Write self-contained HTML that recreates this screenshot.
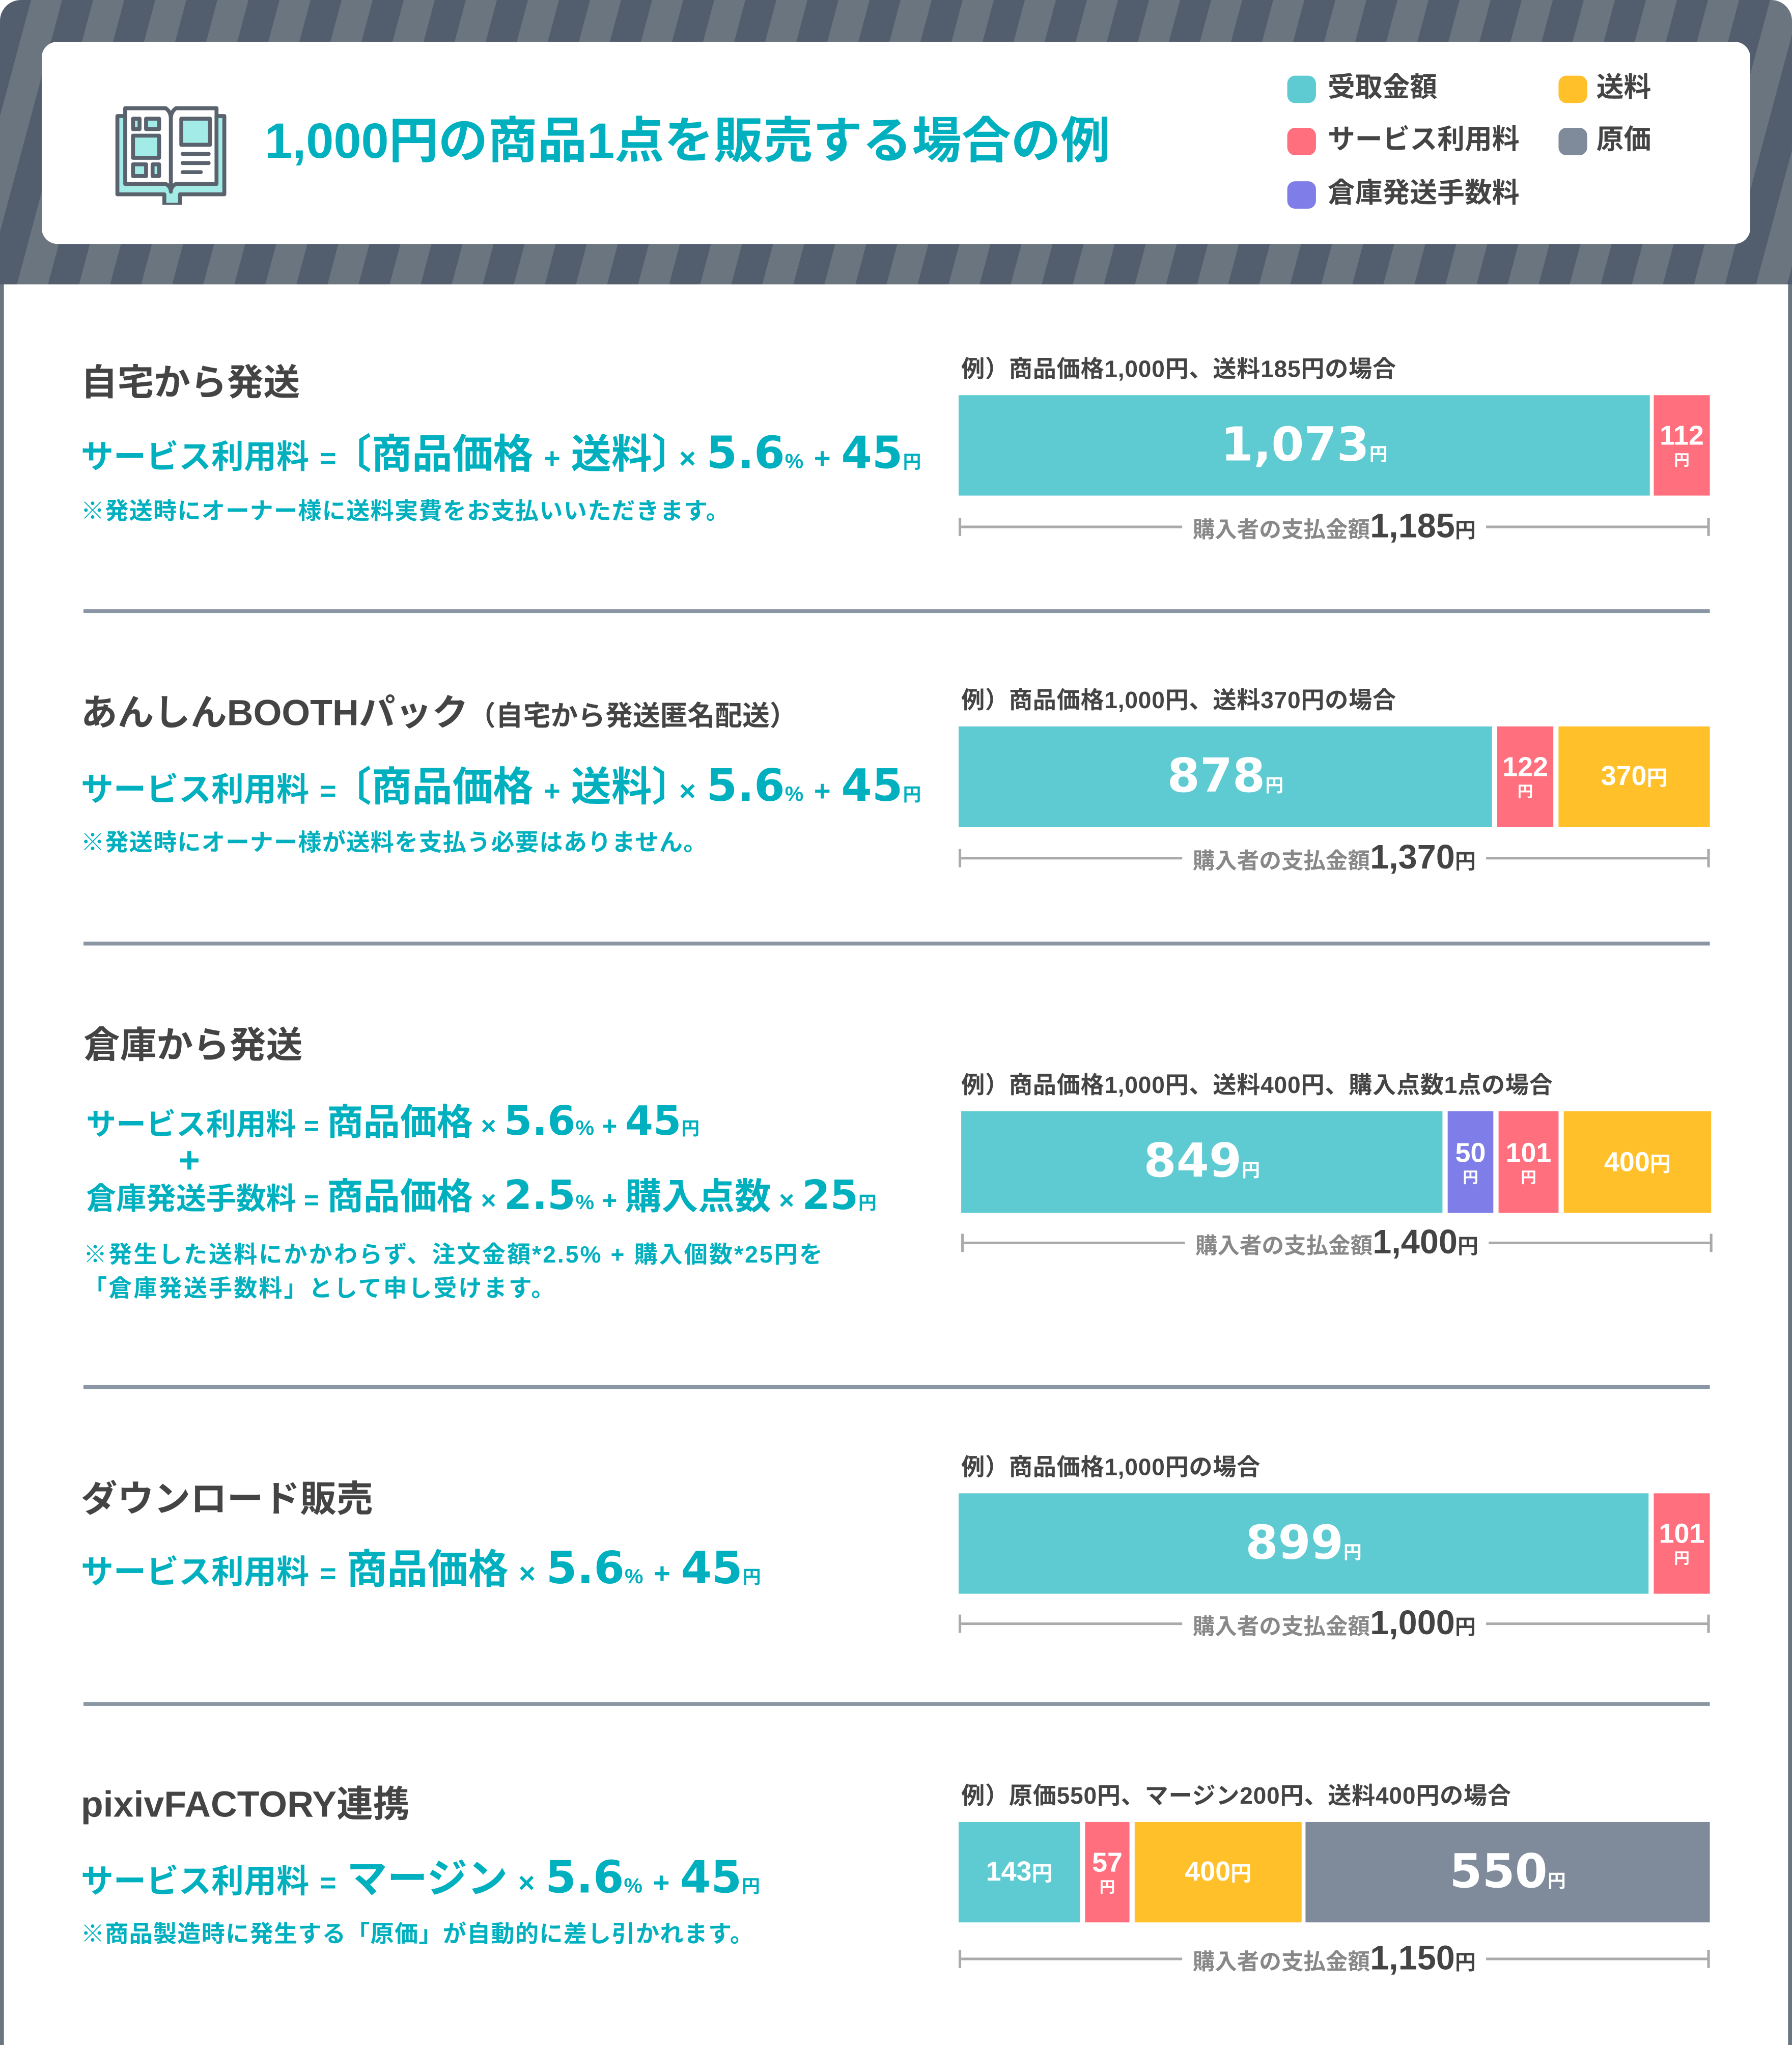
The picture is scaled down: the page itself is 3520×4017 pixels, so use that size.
<!DOCTYPE html>
<html><head><meta charset="utf-8">
<style>
*{margin:0;padding:0;box-sizing:border-box}
html,body{width:3520px;height:4016px;overflow:hidden;background:#fff}
#w{position:absolute;left:0;top:0;width:1374px;height:1568px;transform:scale(2.56186);transform-origin:0 0;font-family:"Liberation Sans","Noto Sans CJK JP",sans-serif;font-weight:bold;color:#444}
.a{position:absolute;white-space:nowrap}
.hdr{left:0;top:0;width:1374px;height:218px;border-radius:16px 16px 0 0;background:repeating-linear-gradient(105deg,#525e6e 0 23px,#6b7580 23px 46px)}
.card{left:32px;top:32px;width:1310px;height:155px;background:#fff;border-radius:12px}
.frame{left:0;top:218px;width:1374px;height:1350px;border-left:3px solid #6b7580;border-right:3px solid #6b7580}
.lg{width:22px;height:21px;border-radius:6px}
.lt{font-size:21px;line-height:22px;color:#444}
.ttl{font-size:28px;line-height:30px;color:#444}
.f{display:flex;align-items:baseline;color:#00b0bf;line-height:1}
.f .s{font-size:25px}.f .o{font-size:22px;margin:0 8px}.f .b{font-size:31px}.f .n{font-size:34px;font-family:"DejaVu Sans","Noto Sans CJK JP",sans-serif;font-weight:bold}.f .p{font-size:16px}.f .y{font-size:14px}
.f.c .s{font-size:23px}.f.c .o{font-size:20px;margin:0 6px}.f.c .b{font-size:28px}.f.c .n{font-size:31px}
.note{font-size:18px;color:#00b0bf;line-height:26px;letter-spacing:0.5px}
.lab{font-size:18px;color:#444;line-height:20px;letter-spacing:0.3px}
.seg{position:absolute;display:flex;flex-direction:column;align-items:center;justify-content:center;color:#fff;line-height:1}
.big{font-size:36px;font-family:"DejaVu Sans",sans-serif;font-weight:bold}
.big small{font-size:14px;font-family:"Noto Sans CJK JP",sans-serif}
.med{font-size:21px}
.med small{font-size:16px}
.stk{font-size:21px}
.stk i{font-style:normal;font-size:12px;margin-top:2px}
.tl{position:absolute;height:14px;border-left:2px solid #aaa;border-right:2px solid #aaa}
.tl:before{content:"";position:absolute;left:0;right:0;top:6px;height:2px;background:#aaa}
.tl span{position:absolute;left:50%;top:50%;transform:translate(-50%,-54%);background:#fff;padding:0 8px;white-space:nowrap;color:#888;font-size:17px;line-height:1}
.tl b{color:#444;font-size:26px}
.tl em{font-style:normal;color:#444;font-size:16px}
.div{position:absolute;left:64px;width:1247px;height:3px;background:#8a96a3}
.T{background:#5ecbd3}.P{background:#ff6f7d}.Y{background:#ffc02a}.V{background:#7f7ee8}.G{background:#7f8b9a}
</style></head><body><div id="w">
<div class="a hdr"></div>
<div class="a card"></div>
<div class="a frame"></div>
<svg class="a" style="left:86px;top:79px" width="92" height="78" viewBox="0 0 92 78">
<g stroke="#59626d" stroke-width="3" stroke-linejoin="round">
<path d="M4 10h6v-6h31l4 6 4-6h31v6h6v60h-34v8h-12v-8h-36z" fill="#a3ebe6"/>
<path d="M10 4h31c3 2 4 5 4 8v56c0-3-2-5-4-6h-31z M80 4h-31c-3 2-4 5-4 8v56c0-3 2-5 4-6h31z" fill="#fff"/>
<rect x="16" y="12" width="5" height="8" fill="#a3ebe6"/><rect x="26" y="12" width="10" height="8" fill="#a3ebe6"/>
<rect x="16" y="25" width="20" height="17" fill="#a3ebe6"/>
<rect x="16" y="47" width="10" height="9" fill="#a3ebe6"/><rect x="31" y="47" width="5" height="9" fill="#a3ebe6"/>
<rect x="53" y="12" width="22" height="20" fill="#a3ebe6"/>
<path d="M54 39h20M54 46h20M54 53h14" stroke-linecap="round"/>
</g></svg>
<div class="a" style="left:203px;top:86px;font-size:38px;color:#00b0bf;line-height:46px">1,000円の商品1点を販売する場合の例</div>
<div class="a lg T" style="left:987px;top:58px"></div><div class="a lt" style="left:1018px;top:57px">受取金額</div>
<div class="a lg P" style="left:987px;top:98px"></div><div class="a lt" style="left:1018px;top:97px">サービス利用料</div>
<div class="a lg V" style="left:987px;top:139px"></div><div class="a lt" style="left:1018px;top:138px">倉庫発送手数料</div>
<div class="a lg Y" style="left:1195px;top:58px"></div><div class="a lt" style="left:1224px;top:57px">送料</div>
<div class="a lg G" style="left:1195px;top:98px"></div><div class="a lt" style="left:1224px;top:97px">原価</div>

<!-- section 1 -->
<div class="a ttl" style="left:62px;top:279px">自宅から発送</div>
<div class="a f" style="left:62px;top:331px"><span class="s">サービス利用料</span><span class="o">=</span><span class="b" style="margin-left:-12px">〔商品価格<span class="o">+</span>送料〕</span><span class="o" style="margin-left:-10px">×</span><span class="n">5.6</span><span class="p">%</span><span class="o">+</span><span class="n">45</span><span class="y">円</span></div>
<div class="a note" style="left:62px;top:379px">※発送時にオーナー様に送料実費をお支払いいただきます。</div>
<div class="a lab" style="left:737px;top:273px">例）商品価格1,000円、送料185円の場合</div>
<div class="seg T big" style="left:735px;top:303px;width:530px;height:77px"><div>1,073<small>円</small></div></div>
<div class="seg P stk" style="left:1268px;top:303px;width:43px;height:77px"><div>112</div><i>円</i></div>
<div class="tl" style="left:735px;top:397px;width:576px"><span>購入者の支払金額<b>1,185</b><em>円</em></span></div>
<div class="div" style="top:467px"></div>

<!-- section 2 -->
<div class="a ttl" style="left:62px;top:532px">あんしんBOOTHパック<span style="font-size:21px">（自宅から発送匿名配送）</span></div>
<div class="a f" style="left:62px;top:586px"><span class="s">サービス利用料</span><span class="o">=</span><span class="b" style="margin-left:-12px">〔商品価格<span class="o">+</span>送料〕</span><span class="o" style="margin-left:-10px">×</span><span class="n">5.6</span><span class="p">%</span><span class="o">+</span><span class="n">45</span><span class="y">円</span></div>
<div class="a note" style="left:62px;top:633px">※発送時にオーナー様が送料を支払う必要はありません。</div>
<div class="a lab" style="left:737px;top:527px">例）商品価格1,000円、送料370円の場合</div>
<div class="seg T big" style="left:735px;top:557px;width:409px;height:77px"><div>878<small>円</small></div></div>
<div class="seg P stk" style="left:1148px;top:557px;width:43px;height:77px"><div>122</div><i>円</i></div>
<div class="seg Y med" style="left:1195px;top:557px;width:116px;height:77px"><div>370<small>円</small></div></div>
<div class="tl" style="left:735px;top:651px;width:576px"><span>購入者の支払金額<b>1,370</b><em>円</em></span></div>
<div class="div" style="top:722px"></div>

<!-- section 3 -->
<div class="a ttl" style="left:64px;top:787px">倉庫から発送</div>
<div class="a f c" style="left:66px;top:845px"><span class="s">サービス利用料</span><span class="o">=</span><span class="b">商品価格</span><span class="o">×</span><span class="n">5.6</span><span class="p">%</span><span class="o">+</span><span class="n">45</span><span class="y">円</span></div>
<div class="a" style="left:137px;top:876px;font-size:28px;color:#00b0bf;line-height:28px">+</div>
<div class="a f c" style="left:66px;top:902px"><span class="s">倉庫発送手数料</span><span class="o">=</span><span class="b">商品価格</span><span class="o">×</span><span class="n">2.5</span><span class="p">%</span><span class="o">+</span><span class="b">購入点数</span><span class="o">×</span><span class="n">25</span><span class="y">円</span></div>
<div class="a note" style="left:64px;top:949px;letter-spacing:1.2px">※発生した送料にかかわらず、注文金額*2.5% + 購入個数*25円を<br>「倉庫発送手数料」として申し受けます。</div>
<div class="a lab" style="left:737px;top:822px">例）商品価格1,000円、送料400円、購入点数1点の場合</div>
<div class="seg T big" style="left:737px;top:852px;width:369px;height:78px"><div>849<small>円</small></div></div>
<div class="seg V stk" style="left:1110px;top:852px;width:35px;height:78px"><div>50</div><i>円</i></div>
<div class="seg P stk" style="left:1149px;top:852px;width:46px;height:78px"><div>101</div><i>円</i></div>
<div class="seg Y med" style="left:1199px;top:852px;width:113px;height:78px"><div>400<small>円</small></div></div>
<div class="tl" style="left:737px;top:946px;width:576px"><span>購入者の支払金額<b>1,400</b><em>円</em></span></div>
<div class="div" style="top:1062px"></div>

<!-- section 4 -->
<div class="a ttl" style="left:62px;top:1135px">ダウンロード販売</div>
<div class="a f" style="left:62px;top:1186px"><span class="s">サービス利用料</span><span class="o">=</span><span class="b">商品価格</span><span class="o">×</span><span class="n">5.6</span><span class="p">%</span><span class="o">+</span><span class="n">45</span><span class="y">円</span></div>
<div class="a lab" style="left:737px;top:1115px">例）商品価格1,000円の場合</div>
<div class="seg T big" style="left:735px;top:1145px;width:529px;height:77px"><div>899<small>円</small></div></div>
<div class="seg P stk" style="left:1268px;top:1145px;width:43px;height:77px"><div>101</div><i>円</i></div>
<div class="tl" style="left:735px;top:1238px;width:576px"><span>購入者の支払金額<b>1,000</b><em>円</em></span></div>
<div class="div" style="top:1305px"></div>

<!-- section 5 -->
<div class="a ttl" style="left:62px;top:1369px">pixivFACTORY連携</div>
<div class="a f" style="left:62px;top:1423px"><span class="s">サービス利用料</span><span class="o">=</span><span class="b">マージン</span><span class="o">×</span><span class="n">5.6</span><span class="p">%</span><span class="o">+</span><span class="n">45</span><span class="y">円</span></div>
<div class="a note" style="left:62px;top:1470px">※商品製造時に発生する「原価」が自動的に差し引かれます。</div>
<div class="a lab" style="left:737px;top:1367px">例）原価550円、マージン200円、送料400円の場合</div>
<div class="seg T med" style="left:735px;top:1397px;width:93px;height:77px"><div>143<small>円</small></div></div>
<div class="seg P stk" style="left:832px;top:1397px;width:34px;height:77px"><div>57</div><i>円</i></div>
<div class="seg Y med" style="left:870px;top:1397px;width:128px;height:77px"><div>400<small>円</small></div></div>
<div class="seg G big" style="left:1001px;top:1397px;width:310px;height:77px"><div>550<small>円</small></div></div>
<div class="tl" style="left:735px;top:1495px;width:576px"><span>購入者の支払金額<b>1,150</b><em>円</em></span></div>
</div></body></html>
